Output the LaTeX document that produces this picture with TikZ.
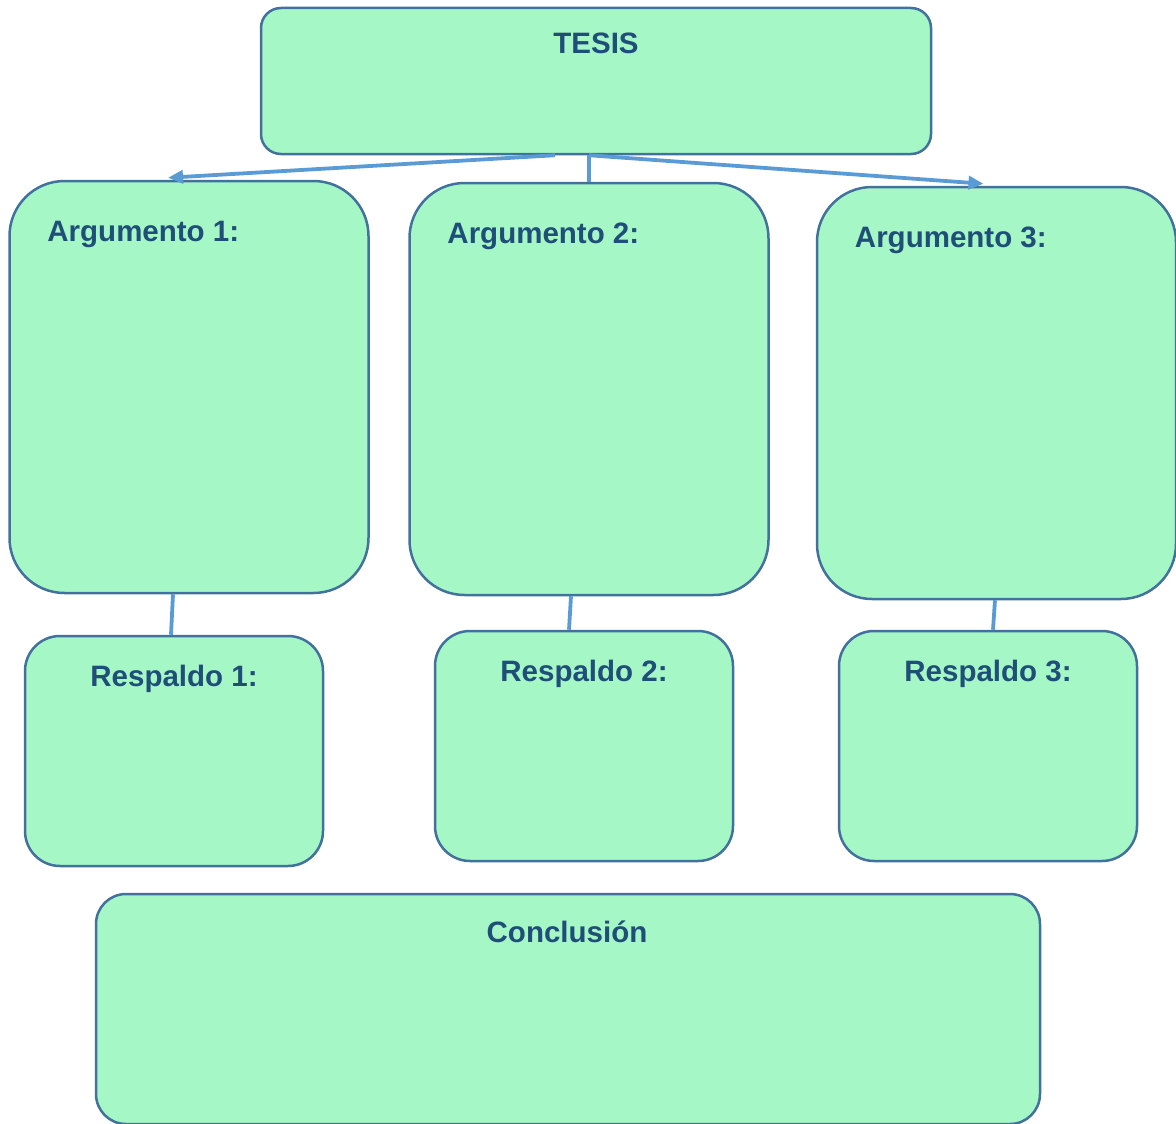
\documentclass[tikz,border=0pt]{standalone}
\usepackage{fontspec}
\setmainfont{Liberation Sans}
\usepackage{tikz}
\usetikzlibrary{calc, arrows.meta}

\definecolor{verde}{RGB}{166,247,198}
\definecolor{borde}{RGB}{65,113,156}
\definecolor{letra}{RGB}{31,78,121}
\definecolor{flecha}{RGB}{91,155,213}

\begin{document}
\begin{tikzpicture}[x=1pt, y=1pt,
        caja/.style={draw=borde, fill=verde, line width=2.5pt, rounded corners=#1, inner sep=0pt},
        caja/.default=30pt,
        texto/.style={text=letra, font=\fontsize{29.5}{35}\selectfont\bfseries, inner sep=0pt},
        enlace/.style={draw=flecha, line width=3.8pt}]
        \useasboundingbox (0,0) rectangle (1176,-1124);
        % tesis
        \node[caja=20pt, minimum width=670pt, minimum height=146pt] (tesis) at (596,-81) {};
        \node[texto, anchor=base] (tesis-t) at ($(tesis.north)+(0,-47)$) {TESIS};
        % argumentos y respaldos
        \foreach \i/\ax/\ay/\rx/\ry in {1/189/387/174/751, 2/589/389/584/746, 3/996.5/393/988/746} {
            \node[caja=55pt, minimum width=359pt, minimum height=412pt] (arg\i) at (\ax,-\ay) {};
            \node[texto, anchor=base west] (arg\i-t) at ($(arg\i.north west)+(39,-62)$) {Argumento \i:};
            \node[caja=35pt, minimum width=298pt, minimum height=230pt] (resp\i) at (\rx,-\ry) {};
            \node[texto, anchor=base] (resp\i-t) at ($(resp\i.north)+(0,-52)$) {Respaldo \i:};
        }
        % conclusion
        \node[caja, minimum width=944pt, minimum height=230pt] (concl) at (568,-1009) {};
        \node[texto, anchor=base] (concl-t) at ($(concl.north)+(-1,-50)$) {Conclusión};
        % enlaces
        \draw[enlace, -{Triangle[length=15pt, width=13pt]}] ($(tesis.south)+(-41,0)$) -- ($(arg1.north)+(-21,2)$);
        \draw[enlace] (arg2.north |- tesis.south) -- (arg2.north);
        \draw[enlace, -{Triangle[length=15pt, width=13pt]}] (arg2.north |- tesis.south) -- ($(arg3.north)+(-13,2)$);
        \foreach \i/\da/\dr in {1/-16/-3, 2/-18/-15, 3/-1.5/5}
            \draw[enlace] ($(arg\i.south)+(\da,0)$) -- ($(resp\i.north)+(\dr,0)$);
\end{tikzpicture}
\end{document}
